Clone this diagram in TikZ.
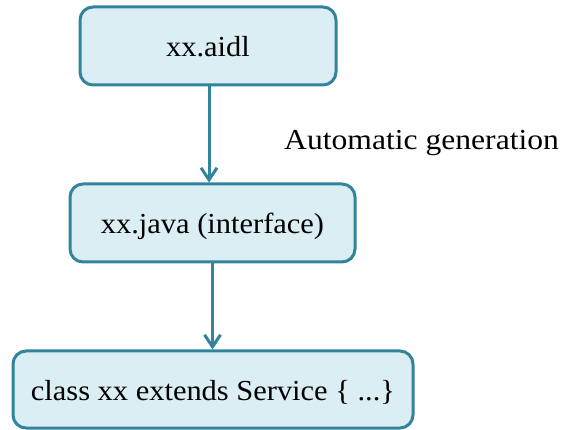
\documentclass[tikz,border=0pt]{standalone}
\usepackage{fontspec}
\setmainfont[FakeStretch=1.05]{Liberation Serif}
\newfontfamily\labelfont[FakeStretch=1.09]{Liberation Serif}
\usetikzlibrary{arrows.meta}
\definecolor{boxfill}{HTML}{DAEEF3}
\definecolor{boxline}{HTML}{31849B}
\tikzset{
  x=1pt,y=1pt,
  flowbox/.style={draw=boxline,fill=boxfill,line width=3pt,rounded corners=13pt,
    inner sep=0pt,text height=24pt,text depth=2pt,font=\fontsize{29}{33}\selectfont},
  flowarrow/.style={draw=boxline,line width=3pt,
    -{Straight Barb[length=12pt,width=16pt,line width=3pt]}},
  note/.style={font=\labelfont\fontsize{29}{33}\selectfont,inner sep=0pt}
}
\begin{document}
\begin{tikzpicture}
\useasboundingbox (0,0) rectangle (563,429);
\node[flowbox,minimum width=256pt,minimum height=78pt] (b1) at (208,383) {xx.aidl};
\node[flowbox,minimum width=285pt,minimum height=78pt] (b2) at (212.5,206) {xx.java (interface)};
\node[flowbox,minimum width=400pt,minimum height=77pt] (b3) at (213,39.5) {class xx extends Service \{ ...\}};
\node[note,anchor=base west] (lbl) at (284,279) {Automatic generation};
\draw[flowarrow] ([xshift=1pt]b1.south) -- ([xshift=1pt]b1.south |- b2.north);
\draw[flowarrow] (b2.south) -- (b2.south |- b3.north);
\end{tikzpicture}
\end{document}
